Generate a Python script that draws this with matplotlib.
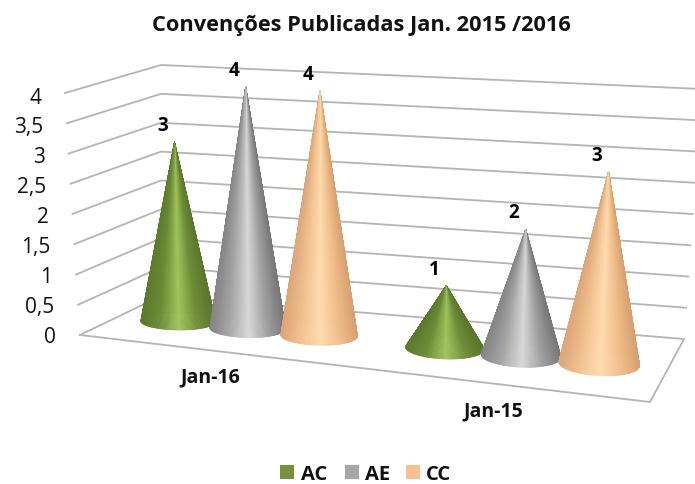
import numpy as np
import matplotlib
matplotlib.use("Agg")
import matplotlib.pyplot as plt
from matplotlib.collections import PolyCollection
from matplotlib.colors import LinearSegmentedColormap
from matplotlib.patches import Rectangle

categories = ["Jan-16", "Jan-15"]
series_names = ["AC", "AE", "CC"]
ac_values = [3, 1]
ae_values = [4, 2]
cc_values = [4, 3]
y_ticks = [0, 0.5, 1, 1.5, 2, 2.5, 3, 3.5, 4]
y_tick_labels = ["0", "0,5", "1", "1,5", "2", "2,5", "3", "3,5", "4"]
title = "Convenções Publicadas Jan. 2015 /2016"

legend_colors = ["#76923c", "#a6a6a6", "#fac090"]
shades = [
    ["#5c7a2c", "#6d8c38", "#a0c45c", "#6f8e38", "#5a762c"],
    ["#858585", "#a6a6a6", "#d8d8d8", "#a0a0a0", "#777777"],
    ["#dca678", "#f2c090", "#ffdcae", "#f2be8c", "#d8a070"],
]

plt.rcParams["font.family"] = ["Open Sans", "DejaVu Sans"]

# floor corners and the screen vector for one unit of value at each of them
FL, FR, BR, BL = (80, 336), (650, 403), (684, 340), (161, 297)
UP_FL, UP_FR, UP_BR, UP_BL = (-3.75, -60.5), (3.5, -67), (4.25, -62.5), (0, -57.75)
CAT_LABEL_POS = [(210, 377), (493, 411)]


def project(u, d, v=0):
    m = 0.909 * u + 0.091 * u * u  # slight perspective along the category axis
    out = []
    for i in range(2):
        p = (1 - m) * (1 - d) * FL[i] + m * (1 - d) * FR[i] + m * d * BR[i] + (1 - m) * d * BL[i]
        up = (1 - m) * (1 - d) * UP_FL[i] + m * (1 - d) * UP_FR[i] + m * d * UP_BR[i] + (1 - m) * d * UP_BL[i]
        out.append(p + up * v)
    return out[0], out[1]


def draw_cone(ax, u, d, value, cmap, z):
    theta = np.linspace(0, 2 * np.pi, 240, endpoint=False)
    ru, rd = 0.068, 0.19
    base = np.array([project(u + ru * np.cos(t), d + rd * np.sin(t)) for t in theta])
    apex = project(u, d, value)
    order = np.argsort(-np.sin(theta))  # back of the cone first
    tris, cols = [], []
    for i in order:
        j = (i + 1) % len(base)
        tris.append([apex, base[i], base[j]])
        cols.append(cmap((base[i][0] - base[:, 0].min()) / np.ptp(base[:, 0])))
    ax.add_collection(PolyCollection(tris, facecolors=cols, edgecolors=cols,
                                     linewidths=0.4, zorder=z))
    return apex


fig = plt.figure(figsize=(6.95, 4.85), dpi=100)
ax = fig.add_axes([0, 0, 1, 1])
ax.set_xlim(0, 695)
ax.set_ylim(485, 0)
ax.axis("off")

# walls and floor
grid = "#b4b4b4"
for v, lab in zip(y_ticks, y_tick_labels):
    left = project(0, 0, v)
    corner = project(0, 1, v)
    right = project(1, 1, v)
    ax.plot([left[0], corner[0], right[0]], [left[1], corner[1], right[1]],
            color=grid, lw=1.3, zorder=1)
    ax.text(left[0] - 24, left[1] + 2 + 0.5 * v, lab, ha="right", va="center", fontsize=15, color="#111111")
floor = [project(0, 0), project(1, 0), project(1, 1)]
ax.plot(*zip(*floor), color=grid, lw=1.3, zorder=1)

# cones
all_values = [ac_values, ae_values, cc_values]
z = 3
for c, cat in enumerate(categories):
    for s in range(len(series_names)):
        u = (c + 0.5 + (s - 1) * 0.27) / len(categories)
        cmap = LinearSegmentedColormap.from_list("c", shades[s])
        apex = draw_cone(ax, u, 0.5, all_values[s][c], cmap, z)
        z += 1
        ax.text(apex[0] - 12, apex[1] - 17, str(all_values[s][c]), ha="center", va="center",
                fontsize=13.5, fontweight="bold", color="black", zorder=20)
    ax.text(*CAT_LABEL_POS[c], cat, ha="center", va="center",
            fontsize=14, fontweight="bold", color="#111111")

ax.text(361, 26, title, ha="center", va="center", fontsize=15.7, fontweight="bold", color="#111111")

# legend
for name, col, sx, tx in zip(series_names, legend_colors, [280, 345, 406], [301, 365, 426]):
    ax.add_patch(Rectangle((sx, 466), 14, 14, facecolor=col, edgecolor="none"))
    ax.text(tx, 475, name, ha="left", va="center", fontsize=14.5, fontweight="bold", color="#111111")

fig.savefig("out.png", dpi=100)
